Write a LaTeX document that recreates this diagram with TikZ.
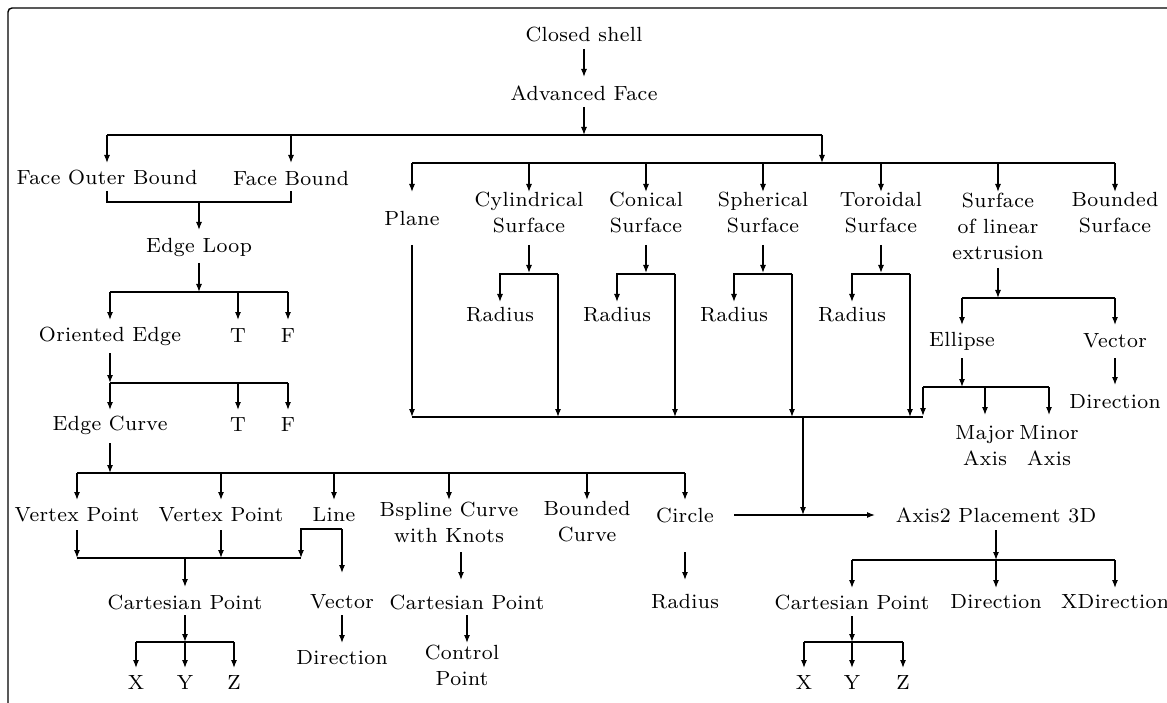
\documentclass[tikz,border=0pt]{standalone}
\usepackage{fontspec}
\setmainfont{lmroman8-regular.otf}[LetterSpace=2]
\usetikzlibrary{arrows.meta,calc}
\begin{document}
\begin{tikzpicture}[x=1pt,y=-1pt,line width=1.15pt,
  lbl/.style={inner sep=0pt,align=center,font=\fontsize{20.5}{26}\selectfont},
  arr/.style={-{Latex[length=8pt,width=6pt]}}]
\useasboundingbox (0,0) rectangle (1167,703);
\draw[line width=1.4pt,rounded corners=4pt] (8,703) -- (8,8) -- (1167,8);

% ---------- nodes ----------
\node[lbl] (cs) at (584,35) {Closed shell};
\node[lbl] (af) at (584,93) {Advanced Face};
\node[lbl] (fob) at (107,178) {Face Outer Bound};
\node[lbl] (fb) at (291,178) {Face Bound};
\node[lbl] (el) at (199,247) {Edge Loop};
\node[lbl] (oe) at (110,336) {Oriented Edge};
\node[lbl] (t1) at (238,336) {T};
\node[lbl] (f1) at (288,336) {F};
\node[lbl] (ec) at (110,425) {Edge Curve};
\node[lbl] (t2) at (238,425) {T};
\node[lbl] (f2) at (288,425) {F};
\node[lbl] (vp1) at (77,515) {Vertex Point};
\node[lbl] (vp2) at (221,515) {Vertex Point};
\node[lbl] (ln) at (334,515) {Line};
\node[lbl] (bs) at (449,522) {Bspline Curve\\with Knots};
\node[lbl] (bc) at (587,522) {Bounded\\Curve};
\node[lbl] (ci) at (685,515) {Circle};
\node[lbl] (cp1) at (185,602) {Cartesian Point};
\node[lbl] (vec1) at (342,602) {Vector};
\node[lbl] (dir1) at (342,658) {Direction};
\node[lbl] (x1) at (136,682) {X};
\node[lbl] (y1) at (185,682) {Y};
\node[lbl] (z1) at (234,682) {Z};
\node[lbl] (cp2) at (467,602) {Cartesian Point};
\node[lbl] (ctl) at (462,665) {Control\\Point};
\node[lbl] (rad5) at (685,602) {Radius};
\node[lbl] (ax) at (996,515) {Axis2 Placement 3D};
\node[lbl] (cp3) at (852,602) {Cartesian Point};
\node[lbl] (dir3) at (996,602) {Direction};
\node[lbl] (xdir) at (1115,602) {XDirection};
\node[lbl] (x2) at (804,682) {X};
\node[lbl] (y2) at (852,682) {Y};
\node[lbl] (z2) at (903,682) {Z};
\node[lbl] (pl) at (412,218) {Plane};
\node[lbl] (cyl) at (529,213) {Cylindrical\\Surface};
\node[lbl] (con) at (646,213) {Conical\\Surface};
\node[lbl] (sph) at (763,213) {Spherical\\Surface};
\node[lbl] (tor) at (881,213) {Toroidal\\Surface};
\node[lbl] (sle) at (998,226) {Surface\\of linear\\extrusion};
\node[lbl] (bsf) at (1115,213) {Bounded\\Surface};
\node[lbl] (r1) at (500,315) {Radius};
\node[lbl] (r2) at (617,315) {Radius};
\node[lbl] (r3) at (734,315) {Radius};
\node[lbl] (r4) at (852,315) {Radius};
\node[lbl] (elp) at (962,341) {Ellipse};
\node[lbl] (vec2) at (1115,341) {Vector};
\node[lbl] (dir2) at (1115,402) {Direction};
\node[lbl] (maj) at (985,446) {Major\\Axis};
\node[lbl] (min) at (1049,446) {Minor\\Axis};

% ---------- junction coordinates ----------
\coordinate (b1) at (584,135);
\coordinate (b2) at (822,163);
\coordinate (l2) at (0,192);
\coordinate (b3) at (199,202);
\coordinate (b4) at (199,292);
\coordinate (l4) at (0,320);
\coordinate (b5) at (110,383);
\coordinate (l5) at (0,410);
\coordinate (b6) at (110,473);
\coordinate (l6) at (0,500);
\coordinate (b7) at (185,558);
\coordinate (b8) at (185,642);
\coordinate (l8) at (0,668);
\coordinate (b9) at (803,417);
\coordinate (b9e) at (923,417);
\coordinate (b10) at (998,298);
\coordinate (l10) at (0,325);
\coordinate (b11) at (962,387);
\coordinate (b12) at (996,560);
\coordinate (l12) at (0,588);
\coordinate (b13) at (852,642);

% ---------- connectors ----------
\draw[arr] ($(cs)+(0,14)$) -- ($(af)+(0,-16)$);
\draw[arr] ($(af)+(0,14)$) -- (b1);
\draw (b1 -| fob) -- (b1 -| b2);
\draw[arr] (b1 -| fob) -- ($(fob)+(0,-15)$);
\draw[arr] (b1 -| fb) -- ($(fb)+(0,-15)$);
\draw[arr] (b1 -| b2) -- (b2);

\draw (b2 -| pl) -- (b2 -| bsf);
\foreach \n in {pl,cyl,con,sph,tor,sle,bsf}
  \draw[arr] (b2 -| \n) -- (l2 -| \n);

\draw ($(fob)+(0,13)$) -- (b3 -| fob) -- (b3 -| fb) -- ($(fb)+(0,13)$);
\draw[arr] (b3) -- ($(el)+(0,-17)$);

\draw[arr] ($(el)+(0,16)$) -- (b4);
\draw (b4 -| oe) -- (b4 -| f1);
\foreach \n in {oe,t1,f1}
  \draw[arr] (b4 -| \n) -- (l4 -| \n);

\draw[arr] ($(oe)+(0,17)$) -- (b5);
\draw (b5) -- (b5 -| f2);
\foreach \n in {ec,t2,f2}
  \draw[arr] (b5 -| \n) -- (l5 -| \n);

\draw[arr] ($(ec)+(0,18)$) -- (b6);
\draw (b6 -| vp1) -- (b6 -| ci);
\foreach \n in {vp1,vp2,ln,bs,bc,ci}
  \draw[arr] (b6 -| \n) -- (l6 -| \n);

\coordinate (lnL) at ($(ln)+(-33,14)$);
\coordinate (lnR) at ($(ln)+(8,14)$);
\draw[arr] ($(vp1)+(0,15)$) -- (b7 -| vp1);
\draw[arr] ($(vp2)+(0,15)$) -- (b7 -| vp2);
\draw (b7 -| vp1) -- (b7 -| lnL);
\draw[arr] (lnR) -- (lnL) -- (b7 -| lnL);
\draw[arr] (lnR) -- ($(vec1)+(0,-29)$);
\draw[arr] (b7) -- ($(cp1)+(0,-15)$);

\draw[arr] ($(cp1)+(0,13)$) -- (b8);
\draw (b8 -| x1) -- (b8 -| z1);
\foreach \n in {x1,y1,z1}
  \draw[arr] (b8 -| \n) -- (l8 -| \n);
\draw[arr] ($(vec1)+(0,13)$) -- ($(dir1)+(0,-15)$);

\draw[arr] ($(bs)+(12,30)$) -- ($(cp2)+(-6,-22)$);
\draw[arr] ($(cp2)+(0,13)$) -- ($(ctl)+(5,-22)$);
\draw[arr] ($(ci)+(0,37)$) -- ($(rad5)+(0,-22)$);
\draw[arr] ($(ci)+(49,0)$) -- ($(ax)+(-121,0)$);

% surfaces
\draw[arr] ($(pl)+(0,27)$) -- (b9 -| pl);
\foreach \s/\r in {cyl/r1,con/r2,sph/r3,tor/r4}{
  \coordinate (\s L) at ($(\s)+(-29,61)$);
  \coordinate (\s R) at ($(\s)+(29,61)$);
  \draw[arr] ($(\s)+(0,32)$) -- ($(\s)+(0,60)$);
  \draw[arr] (\s R) -- (\s L) -- ($(\r)+(0,-13)$);
  \draw[arr] (\s R) -- (b9 -| \s R);
}
\draw (b9 -| pl) -- (b9e);
\draw[arr] (b9) -- (b9 |- ax);

\draw[arr] ($(sle)+(0,42)$) -- (b10);
\draw (b10 -| elp) -- (b10 -| vec2);
\foreach \n in {elp,vec2}
  \draw[arr] (b10 -| \n) -- (l10 -| \n);

\draw[arr] ($(elp)+(0,17)$) -- (b11);
\draw (b11 -| b9e) -- (b11 -| min);
\draw[arr] (b11 -| b9e) -- ($(b9e)+(0,-1)$);
\draw[arr] (b11 -| maj) -- ($(maj)+(0,-31)$);
\draw[arr] (b11 -| min) -- ($(min)+(0,-31)$);
\draw[arr] ($(vec2)+(0,17)$) -- ($(dir2)+(0,-17)$);

\draw[arr] ($(ax)+(0,15)$) -- (b12);
\draw (b12 -| cp3) -- (b12 -| xdir);
\foreach \n in {cp3,dir3,xdir}
  \draw[arr] (b12 -| \n) -- (l12 -| \n);

\draw[arr] ($(cp3)+(0,14)$) -- (b13);
\draw (b13 -| x2) -- (b13 -| z2);
\foreach \n in {x2,y2,z2}
  \draw[arr] (b13 -| \n) -- (l8 -| \n);
\end{tikzpicture}
\end{document}
